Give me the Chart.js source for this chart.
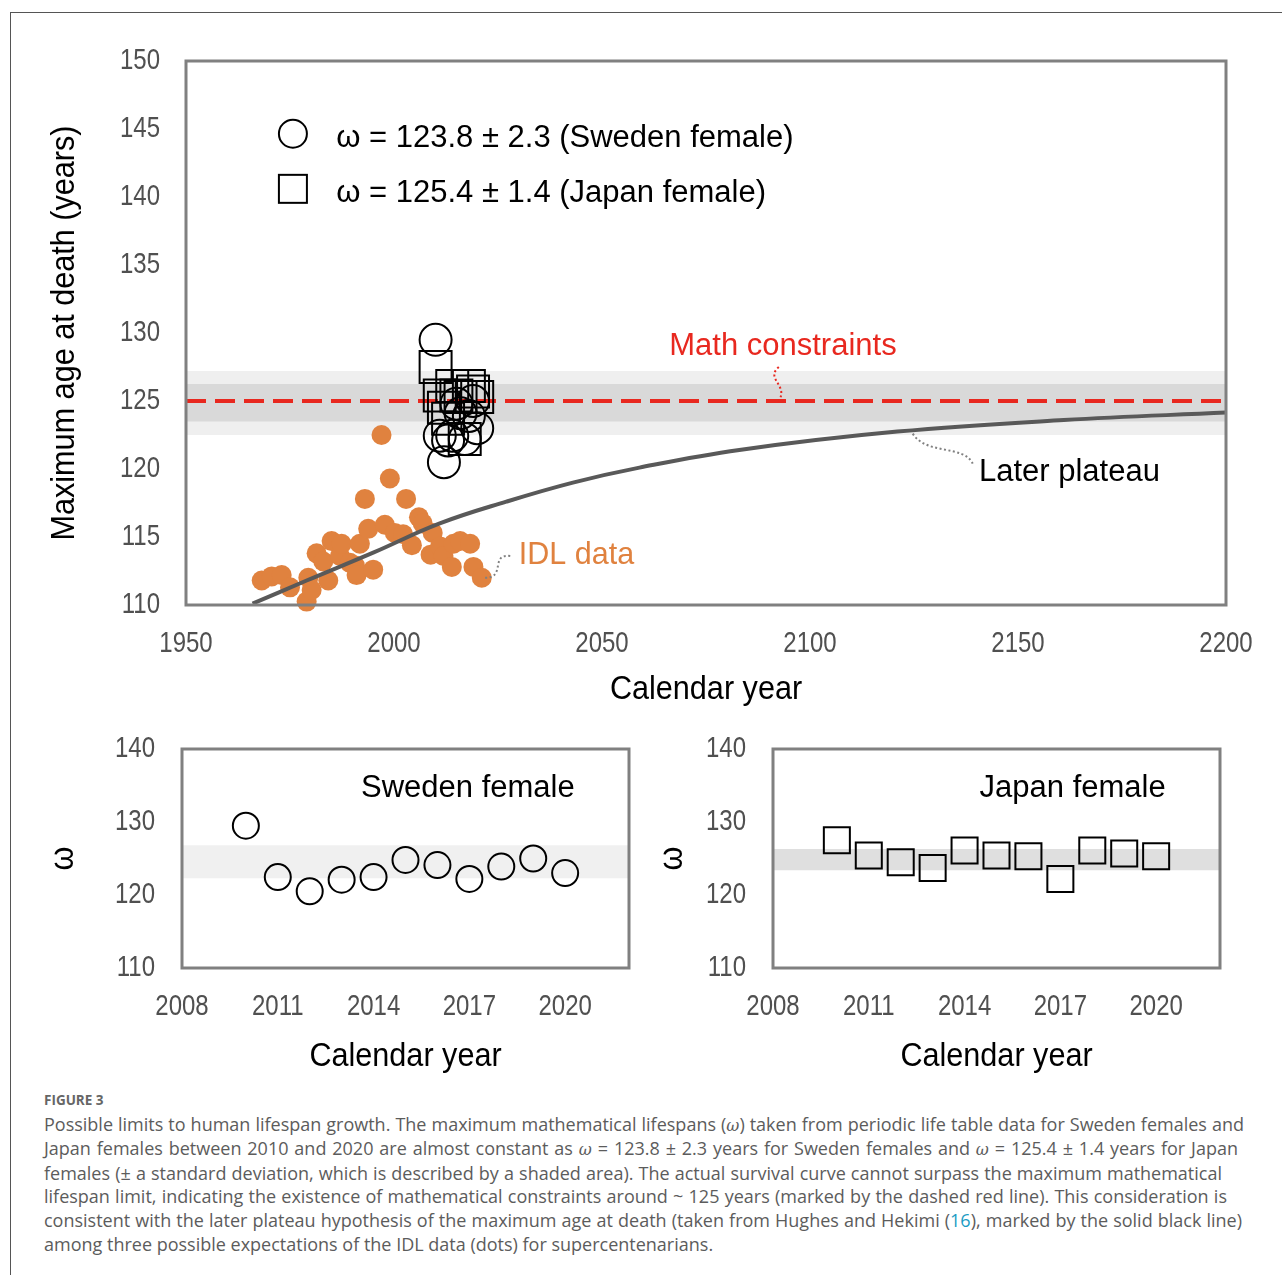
<!DOCTYPE html>
<html>
<head>
<meta charset="utf-8">
<script src="https://cdn.jsdelivr.net/npm/chart.js@4.4.1/dist/chart.umd.min.js"></script>
<style>
  body { margin: 0; background: #fff; }
  #page { position: relative; width: 1282px; height: 1275px; overflow: hidden; }
  #frame { position: absolute; left: 10px; top: 12px; width: 1280px; height: 1270px;
           border-top: 1px solid #555; border-left: 1px solid #555; }
  canvas { position: absolute; }
  #caption { position: absolute; left: 44px; top: 1089px; font-family: "Open Sans", sans-serif;
             color: #5c5c5c; font-size: 18px; line-height: 23.6px; }
  #caption .fig { font-weight: 700; font-size: 13.5px; color: #666; }
  #caption .ln { white-space: nowrap; text-align: justify; text-align-last: justify; }
  #caption .last { text-align-last: left; }
  #caption i { font-family: "DejaVu Serif", serif; font-size: 16px; }
  #caption .ref { color: #1a9cc4; }
</style>
</head>
<body>
<div id="page">
  <div id="frame"></div>
  <canvas id="mainChart" width="1282" height="720" style="left:0;top:0"></canvas>
  <canvas id="swedenChart" width="660" height="380" style="left:0;top:700px"></canvas>
  <canvas id="japanChart" width="620" height="380" style="left:640px;top:700px"></canvas>
  <div id="caption">
    <div class="fig">FIGURE 3</div>
    <div class="ln" style="width:1200px">Possible limits to human lifespan growth. The maximum mathematical lifespans (<i>ω</i>) taken from periodic life table data for Sweden females and</div>
    <div class="ln" style="width:1194px">Japan females between 2010 and 2020 are almost constant as <i>ω</i> = 123.8 ± 2.3 years for Sweden females and <i>ω</i> = 125.4 ± 1.4 years for Japan</div>
    <div class="ln" style="width:1178px">females (± a standard deviation, which is described by a shaded area). The actual survival curve cannot surpass the maximum mathematical</div>
    <div class="ln" style="width:1183px">lifespan limit, indicating the existence of mathematical constraints around ~ 125 years (marked by the dashed red line). This consideration is</div>
    <div class="ln" style="width:1198px">consistent with the later plateau hypothesis of the maximum age at death (taken from Hughes and Hekimi (<span class="ref">16</span>), marked by the solid black line)</div>
    <div class="ln last">among three possible expectations of the IDL data (dots) for supercentenarians.</div>
  </div>
</div>
<script>
// 図のデータ
const idlYears = [1968.2, 1970.6, 1973.0, 1975.0, 1979.0, 1979.4, 1980.2, 1981.4, 1983.0, 1984.2,
  1985.0, 1987.0, 1987.4, 1989.4, 1990.6, 1991.0, 1991.8, 1993.0, 1993.8, 1995.0, 1997.0, 1997.8,
  1999.0, 2000.2, 2002.2, 2002.9, 2004.3, 2006.0, 2006.9, 2008.8, 2009.3, 2011.1, 2011.9, 2013.9,
  2014.3, 2015.9, 2018.3, 2019.1, 2021.1];
const idlAges = [111.8, 112.1, 112.2, 111.3, 110.25, 112.0, 111.1, 113.8, 113.2, 111.8,
  114.7, 113.6, 114.5, 113.1, 112.9, 112.2, 114.5, 117.8, 115.6, 112.6, 122.5, 115.9,
  119.3, 115.3, 115.2, 117.8, 114.4, 116.45, 116.0, 113.7, 115.3, 114.3, 113.6, 112.8,
  114.5, 114.7, 114.5, 112.8, 112.0];

const plateauYears = [1966, 1979, 1995, 2011, 2027, 2043, 2059, 2083, 2121, 2161, 2200];
const plateauAges = [110.1, 111.8, 113.85, 116.0, 117.6, 119.0, 120.1, 121.4, 122.75, 123.6, 124.15];

const omegaYears = [2010, 2011, 2012, 2013, 2014, 2015, 2016, 2017, 2018, 2019, 2020];
const swedenOmega = [129.5, 122.45, 120.5, 122.1, 122.45, 124.8, 124.1, 122.2, 123.9, 125.0, 123.0];
const japanOmega = [127.5, 125.4, 124.5, 123.7, 126.1, 125.4, 125.3, 122.2, 126.1, 125.7, 125.3];

const mathLimit = 125;
const swedenBand = [122.5, 127.2];
const japanBand = [123.5, 126.25];
const swedenBandSmall = [122.3, 126.8];
const japanBandSmall = [123.4, 126.3];

const mainXRange = [1950, 2200, 50];
const mainYRange = [110, 150, 5];
const smallXRange = [2008, 2022];
const smallXTicks = [2008, 2011, 2014, 2017, 2020];
const smallYRange = [110, 140, 10];

const FONT = '"Liberation Sans", Arial, sans-serif';
const TICK_COLOR = "#505050";
// 文字サイズごとの横方向の縮め具合（Arial Narrow 風）
const NARROW = { "30": 0.8, "34": 0.9 };

function toPoints(xs, ys) {
  return xs.map((x, i) => ({ x: x, y: ys[i] }));
}

function hLine(range, value) {
  return [{ x: range[0], y: value }, { x: range[1], y: value }];
}

// 細い書体がないので fillText を横に縮める
const condensed = {
  id: "condensed",
  beforeInit(chart) {
    const ctx = chart.ctx;
    const orig = ctx.fillText;
    ctx.fillText = function (text, x, y) {
      const m = /([\d.]+)px/.exec(this.font);
      const k = m ? NARROW[m[1]] || 1 : 1;
      if (k === 1) return orig.call(this, text, x, y);
      this.save();
      this.translate(x, y);
      this.scale(k, 1);
      orig.call(this, text, 0, 0);
      this.restore();
    };
  },
};

// プロット枠
const frameBox = {
  id: "frameBox",
  afterDraw(chart) {
    const a = chart.chartArea;
    const ctx = chart.ctx;
    ctx.save();
    ctx.strokeStyle = "#808080";
    ctx.lineWidth = 3;
    ctx.strokeRect(a.left, a.top, a.right - a.left, a.bottom - a.top);
    ctx.restore();
  },
};

// 点線の引き出し線
function squiggle(ctx, pts, color) {
  ctx.save();
  ctx.strokeStyle = color;
  ctx.lineWidth = 2;
  ctx.setLineDash([2, 2.5]);
  ctx.beginPath();
  ctx.moveTo(pts[0], pts[1]);
  ctx.bezierCurveTo(pts[2], pts[3], pts[4], pts[5], pts[6], pts[7]);
  ctx.stroke();
  ctx.restore();
}

const mainNotes = {
  id: "mainNotes",
  afterDraw(chart) {
    const x = chart.scales.x;
    const y = chart.scales.y;
    const ctx = chart.ctx;
    const px = (v) => x.getPixelForValue(v);
    const py = (v) => y.getPixelForValue(v);
    ctx.save();
    ctx.textBaseline = "middle";

    // 凡例
    ctx.strokeStyle = "#000";
    ctx.lineWidth = 2;
    ctx.beginPath();
    ctx.arc(px(1975.7), py(144.65), 14, 0, Math.PI * 2);
    ctx.stroke();
    ctx.strokeRect(px(1975.7) - 14, py(140.6) - 14, 28, 28);
    ctx.font = "31px " + FONT;
    ctx.fillStyle = "#000";
    ctx.textAlign = "left";
    ctx.fillText("ω = 123.8 ± 2.3 (Sweden female)", px(1986.1), py(144.3));
    ctx.fillText("ω = 125.4 ± 1.4 (Japan female)", px(1986.1), py(140.25));

    // 注記
    ctx.textAlign = "center";
    ctx.fillStyle = "#E8281F";
    ctx.fillText("Math constraints", px(2093.5), py(129.0));
    ctx.textAlign = "left";
    ctx.fillStyle = "#000";
    ctx.fillText("Later plateau", px(2140.6), py(119.72));
    ctx.font = "30.5px " + FONT;
    ctx.fillStyle = "#E0823F";
    ctx.fillText("IDL data", px(2030.0), py(113.65));
    ctx.restore();

    const a0 = px(2092.5), b0 = py(127.5), b1 = py(125.0);
    squiggle(ctx, [a0, b0, a0 - 14, b0 + 12, a0 + 10, b0 + 18, a0, b1], "#E8281F");
    squiggle(ctx, [px(2124.7), py(122.6), px(2128), py(121.0), px(2137), py(121.8), px(2139.1), py(120.4)], "#808080");
    squiggle(ctx, [px(2021.9), py(112.0), px(2027), py(112.0), px(2023), py(113.8), px(2028.0), py(113.6)], "#808080");
  },
};

function panelLabel(text) {
  return {
    id: "panelLabel",
    afterDraw(chart) {
      const ctx = chart.ctx;
      ctx.save();
      ctx.font = "31px " + FONT;
      ctx.textBaseline = "middle";
      ctx.textAlign = "right";
      ctx.fillStyle = "#000";
      ctx.fillText(text, chart.scales.x.getPixelForValue(2020.3), chart.scales.y.getPixelForValue(134.6));
      ctx.restore();
    },
  };
}

function axisX(range, tickValues, title, fit, pad, titlePad) {
  const axis = {
    type: "linear",
    min: range[0],
    max: range[1],
    grid: { display: false, drawTicks: false },
    border: { display: false },
    afterFit: (s) => { s.height = fit; },
    ticks: {
      stepSize: range[2],
      padding: pad,
      color: TICK_COLOR,
      font: { family: FONT, size: 30 },
      callback: (v) => String(v),
    },
    title: { display: true, text: title, color: "#000", font: { family: FONT, size: 34 }, padding: { bottom: titlePad } },
  };
  if (tickValues) {
    axis.afterBuildTicks = (s) => { s.ticks = tickValues.map((v) => ({ value: v })); };
  }
  return axis;
}

function axisY(range, title, fit, pad, titlePad) {
  return {
    type: "linear",
    min: range[0],
    max: range[1],
    grid: { display: false, drawTicks: false },
    border: { display: false },
    afterFit: (s) => { s.width = fit; },
    ticks: {
      stepSize: range[2],
      padding: pad,
      color: TICK_COLOR,
      font: { family: FONT, size: 30 },
      callback: (v) => String(v),
    },
    title: { display: true, text: title, color: "#000", font: { family: FONT, size: 34 }, padding: { top: titlePad } },
  };
}

const commonPlugins = {
  legend: { display: false },
  tooltip: { enabled: false },
};

function bandDataset(range, band, color, order) {
  return {
    data: hLine(range, band[1]),
    showLine: true,
    fill: { value: band[0] },
    backgroundColor: color,
    borderWidth: 0,
    pointRadius: 0,
    order: order,
  };
}

function renderMainChart() {
  const ctx = document.getElementById("mainChart").getContext("2d");
  new Chart(ctx, {
    type: "scatter",
    data: {
      datasets: [
        bandDataset(mainXRange, swedenBand, "#EFEFEF", 20),
        bandDataset(mainXRange, japanBand, "#D9D9D9", 19),
        {
          data: toPoints(idlYears, idlAges),
          backgroundColor: "#E0823F",
          borderWidth: 0,
          pointRadius: 10,
          clip: false,
          order: 18,
        },
        {
          data: toPoints(plateauYears, plateauAges),
          showLine: true,
          tension: 0.4,
          borderColor: "#595959",
          borderWidth: 4,
          pointRadius: 0,
          order: 17,
        },
        {
          data: hLine(mainXRange, mathLimit),
          showLine: true,
          borderColor: "#E8281F",
          borderWidth: 4,
          borderDash: [20, 9],
          pointRadius: 0,
          order: 16,
        },
        {
          data: toPoints(omegaYears, japanOmega),
          pointStyle: "rect",
          pointRadius: 22.6,
          borderColor: "#000",
          borderWidth: 2,
          backgroundColor: "rgba(0,0,0,0)",
          order: 15,
        },
        {
          data: toPoints(omegaYears, swedenOmega),
          pointStyle: "circle",
          pointRadius: 16,
          borderColor: "#000",
          borderWidth: 2,
          backgroundColor: "rgba(0,0,0,0)",
          order: 14,
        },
      ],
    },
    options: {
      responsive: false,
      animation: false,
      layout: { padding: { top: 61, right: 56, bottom: 0, left: 0 } },
      scales: {
        x: axisX(mainXRange, null, "Calendar year", 115, 21, 10),
        y: axisY(mainYRange, "Maximum age at death (years)", 186, 26, 44),
      },
      plugins: commonPlugins,
    },
    plugins: [condensed, frameBox, mainNotes],
  });
}

function renderOmegaChart(id, values, band, bandColor, shape, label, yFit, titlePad, rightPad) {
  const ctx = document.getElementById(id).getContext("2d");
  new Chart(ctx, {
    type: "scatter",
    data: {
      datasets: [
        bandDataset(smallXRange, band, bandColor, 10),
        {
          data: toPoints(omegaYears, values),
          pointStyle: shape,
          pointRadius: shape === "rect" ? 18.4 : 13,
          borderColor: "#000",
          borderWidth: 2,
          backgroundColor: "rgba(0,0,0,0)",
          order: 5,
        },
      ],
    },
    options: {
      responsive: false,
      animation: false,
      layout: { padding: { top: 49, right: rightPad, bottom: 0, left: 0 } },
      scales: {
        x: axisX(smallXRange, smallXTicks, "Calendar year", 112, 21, 3),
        y: axisY(smallYRange, "ω", yFit, 27, titlePad),
      },
      plugins: commonPlugins,
    },
    plugins: [condensed, frameBox, panelLabel(label)],
  });
}

renderMainChart();
renderOmegaChart("swedenChart", swedenOmega, swedenBandSmall, "#F0F0F0", "circle", "Sweden female", 182, 43, 31);
renderOmegaChart("japanChart", japanOmega, japanBandSmall, "#DFDFDF", "rect", "Japan female", 133, 12, 40);
</script>
</body>
</html>
